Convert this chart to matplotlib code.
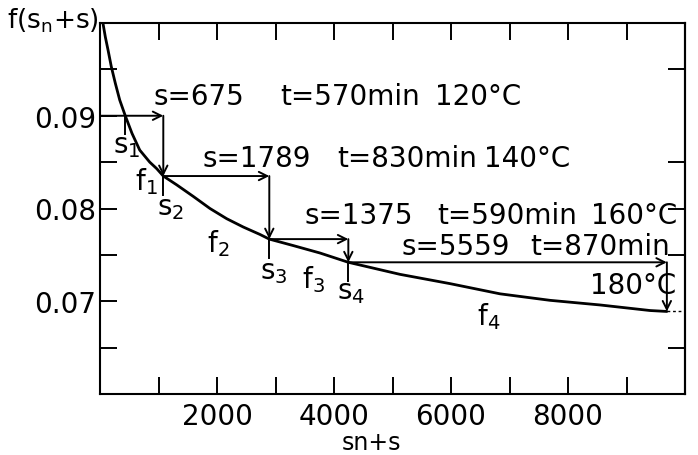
import numpy as np
import matplotlib
matplotlib.use("Agg")
import matplotlib.pyplot as plt

# step points s1..s5 (position on x, f value on the curve)
step_s = [432, 1082, 2894, 4245, 9690]
step_f = [0.0900, 0.0835, 0.0767, 0.0742, 0.0689]
step_inc = ['675', '1789', '1375', '5559']
step_time = ['570', '830', '590', '870']
step_temp = ['120', '140', '160', '180']

# the falling curve f(sn+s), read point by point
curve_s = [50, 91, 137, 193, 262, 337, 432, 547, 679, 850, 969, 1082, 1311,
           1595, 1880, 2166, 2450, 2735, 2894, 3305, 3761, 4245, 5128, 5983,
           6838, 7692, 8547, 9402, 9690]
curve_f = [0.1000, 0.0985, 0.0971, 0.0953, 0.0935, 0.0917, 0.0900, 0.0881,
           0.0863, 0.0850, 0.0843, 0.0835, 0.08255, 0.0813, 0.0800, 0.0789,
           0.0780, 0.0772, 0.0767, 0.0760, 0.0752, 0.0742, 0.0729, 0.0719,
           0.0708, 0.0701, 0.0696, 0.0690, 0.0689]

x_ticks = list(range(1000, 10000, 1000))
x_labels = ['2000', '4000', '6000', '8000']
y_ticks = [0.065, 0.07, 0.075, 0.08, 0.085, 0.09, 0.095]
y_labels = ['0.07', '0.08', '0.09']
right_ticks = [0.065, 0.075, 0.08, 0.085, 0.095]

FS = 20
plt.rcParams['font.family'] = ['DejaVu Sans']
plt.rcParams['mathtext.fontset'] = 'dejavusans'

fig = plt.figure(figsize=(6.98, 4.56), dpi=100)
ax = fig.add_axes([100 / 698, 61 / 456, 585 / 698, 371 / 456])

ax.plot(curve_s, curve_f, color='black', lw=2.0, solid_capstyle='round',
        solid_joinstyle='round')
ax.plot([step_s[-1], 10000], [step_f[-1], step_f[-1]], color='black',
        lw=1.0, ls=(0, (2, 2)))

arrow = dict(arrowstyle='->,head_length=0.6,head_width=0.3', lw=1.4,
             color='black', shrinkA=0, shrinkB=0)

for i in range(4):
    x0 = 0 if i == 0 else step_s[i]
    ax.annotate('', xy=(step_s[i + 1], step_f[i]), xytext=(x0, step_f[i]),
                arrowprops=arrow)
    ax.annotate('', xy=(step_s[i + 1], step_f[i + 1]),
                xytext=(step_s[i + 1], step_f[i]), arrowprops=arrow)
    # short drop line below each step point
    ax.plot([step_s[i], step_s[i]], [step_f[i], step_f[i] - 0.002],
            color='black', lw=1.4)

# s=..., t=..., temperature labels
ax.text(906, 0.0921, 's=' + step_inc[0], fontsize=FS, va='center')
ax.text(3077, 0.0921, 't=' + step_time[0] + 'min', fontsize=FS, va='center')
ax.text(5720, 0.0921, step_temp[0] + '°C', fontsize=FS, va='center')

ax.text(1744, 0.0854, 's=' + step_inc[1], fontsize=FS, va='center')
ax.text(4051, 0.0854, 't=' + step_time[1] + 'min', fontsize=FS, va='center')
ax.text(6560, 0.0854, step_temp[1] + '°C', fontsize=FS, va='center')

ax.text(3504, 0.0793, 's=' + step_inc[2], fontsize=FS, va='center')
ax.text(5761, 0.0793, 't=' + step_time[2] + 'min', fontsize=FS, va='center')
ax.text(8400, 0.0793, step_temp[2] + '°C', fontsize=FS, va='center')

ax.text(5162, 0.0760, 's=' + step_inc[3], fontsize=FS, va='center')
ax.text(7350, 0.0760, 't=' + step_time[3] + 'min', fontsize=FS, va='center')
ax.text(8376, 0.0718, step_temp[3] + '°C', fontsize=FS, va='center')

# point and segment names
ax.text(222, 0.0869, r's$_1$', fontsize=FS, va='center')
ax.text(598, 0.0830, r'f$_1$', fontsize=FS, va='center')
ax.text(974, 0.0802, r's$_2$', fontsize=FS, va='center')
ax.text(1829, 0.0763, r'f$_2$', fontsize=FS, va='center')
ax.text(2735, 0.0733, r's$_3$', fontsize=FS, va='center')
ax.text(3453, 0.0724, r'f$_3$', fontsize=FS, va='center')
ax.text(4051, 0.0711, r's$_4$', fontsize=FS, va='center')
ax.text(6444, 0.0684, r'f$_4$', fontsize=FS, va='center')

ax.set_xlim(0, 10000)
ax.set_ylim(0.06, 0.1)
ax.set_xticks(x_ticks)
ax.set_xticklabels([str(t) if str(t) in x_labels else '' for t in x_ticks])
ax.set_yticks(y_ticks)
ax.set_yticklabels([f'{t:.3f}'.rstrip('0') if f'{t:.3f}'.rstrip('0') in y_labels else ''
                    for t in y_ticks])
ax.tick_params(direction='in', length=12, width=1.4, labelsize=FS, top=True,
               right=False, pad=3)
ax.tick_params(axis='x', pad=6)

sec = ax.secondary_yaxis('right')
sec.set_yticks(right_ticks)
sec.set_yticklabels([])
sec.tick_params(direction='in', length=12, width=1.4)
sec.spines['right'].set_linewidth(1.5)

for sp in ax.spines.values():
    sp.set_linewidth(1.5)

fig.text(7 / 698, 1 - 21 / 456, r'f(s$_\mathrm{n}$+s)', fontsize=19,
         ha='left', va='center')
fig.text(371 / 698, 1 - 443 / 456, 'sn+s', fontsize=17, ha='center',
         va='center')

fig.savefig('out.png', dpi=100)
